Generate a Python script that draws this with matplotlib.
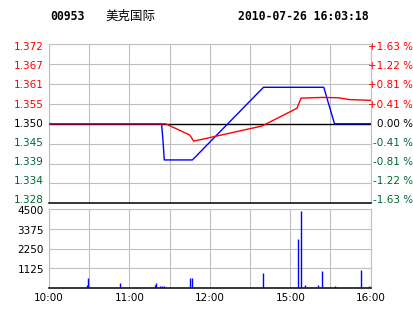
import matplotlib
matplotlib.use('Agg')

import matplotlib.pyplot as plt
import numpy as np

# minutes since 10:00 (0..240), session axis
time_labels = ['10:00', '11:00', '12:00', '15:00', '16:00']
time_label_pos = [0, 60, 120, 180, 240]

price_labels = ['1.328', '1.334', '1.339', '1.345', '1.350', '1.355', '1.361', '1.367', '1.372']
pct_labels = ['-1.63 %', '-1.22 %', '-0.81 %', '-0.41 %', '0.00 %', '+0.41 %', '+0.81 %', '+1.22 %', '+1.63 %']

price_t = [0, 87, 105, 108, 159, 185, 188, 204, 216, 224, 240]
price_v = [1.3500, 1.3500, 1.3469, 1.3452, 1.3494, 1.3543, 1.3571, 1.3573, 1.3572, 1.3567, 1.3565]

avg_t = [0, 84, 85, 86, 107, 160, 205, 213, 240]
avg_v = [1.3500, 1.3500, 1.3455, 1.3400, 1.3400, 1.3601, 1.3601, 1.3500, 1.3500]

vol_t = [28, 29, 53, 79, 80, 83, 84, 86, 105, 107, 160, 186, 188, 191, 201, 204, 213, 233, 239]
vol_v = [190, 600, 320, 190, 300, 130, 130, 130, 600, 600, 870, 2810, 4400, 190, 190, 980, 130, 1040, 130]
vol_labels = ['1125', '2250', '3375', '4500']

prev_close = 1.350
grid_c = '#c0c0c0'
green = '#006633'

fig = plt.figure(figsize=(4.14, 3.14), dpi=100)
ax = fig.add_axes([49/414, 1 - 203.3/314, 321.7/414, 159/314])
axv = fig.add_axes([49/414, 1 - 288.3/314, 321.7/414, 79.3/314])

def style(a):
    a.set_xlim(0, 240)
    a.set_xticks(np.arange(0, 241, 30))
    a.set_xticklabels([])
    a.set_yticklabels([])
    a.tick_params(length=0)
    a.grid(True, color=grid_c, linewidth=0.8)
    for s in ['left', 'right', 'top']:
        a.spines[s].set_color(grid_c)
        a.spines[s].set_linewidth(0.8)
    a.spines['bottom'].set_color('black')
    a.spines['bottom'].set_linewidth(1.1)

# price panel
ticks = np.linspace(1.328, 1.372, 9)
ax.set_ylim(1.328, 1.372)
ax.set_yticks(ticks)
style(ax)

ax.axhline(prev_close, color='black', linewidth=1.0, zorder=2)
ax.plot(avg_t, avg_v, color='blue', linewidth=1.0, zorder=3)
ax.plot(price_t, price_v, color='red', linewidth=1.0, zorder=4)

# labels sit slightly inside the outer gridlines
for k in range(9):
    v = ticks[k]
    if v > prev_close + 1e-6:
        c = 'red'
    elif v < prev_close - 1e-6:
        c = green
    else:
        c = 'black'
    yf = (3.3 + k * 152.7 / 8) / 159
    ax.text(-5/321.7, yf, price_labels[k], transform=ax.transAxes, ha='right', va='center',
            fontsize=7.5, color=c)
    ax.text(1.131, yf, pct_labels[k], transform=ax.transAxes, ha='right', va='center',
            fontsize=7.5, color=c)

# volume panel
axv.set_ylim(0, 4500)
axv.set_yticks([1125, 2250, 3375, 4500])
style(axv)
axv.vlines(vol_t, 0, vol_v, color='blue', linewidth=1.0, zorder=3)

for lab, v in zip(vol_labels, [1125, 2250, 3375, 4500]):
    axv.text(-5/321.7, v - 100, lab, transform=axv.get_yaxis_transform(), ha='right', va='center',
             fontsize=7.5)

for lab, t in zip(time_labels, time_label_pos):
    axv.text(t, -0.125, lab, transform=axv.get_xaxis_transform(), ha='center', va='center',
             fontsize=7.5)

# header
fig.text(50/414, 1 - 16/314, '00953', fontsize=8.3, fontweight='bold',
         family='DejaVu Sans Mono', va='center')
fig.text(105/414, 1 - 16/314, '美克国际', fontsize=9, family=['Noto Sans CJK SC', 'DejaVu Sans'],
         va='center')
fig.text(238/414, 1 - 16/314, '2010-07-26 16:03:18', fontsize=8.3, fontweight='bold',
         family='DejaVu Sans Mono', va='center')

fig.savefig('out.png', dpi=100, facecolor='white')
